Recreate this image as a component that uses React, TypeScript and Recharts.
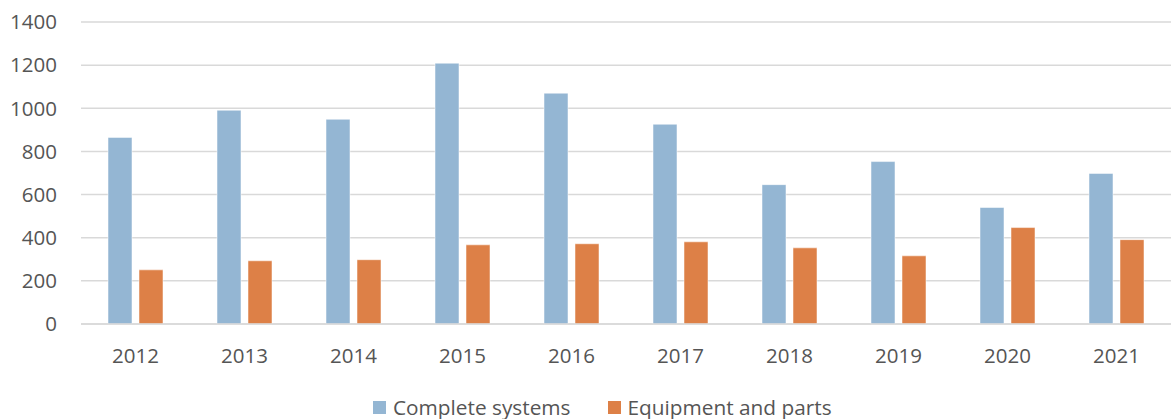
import { BarChart, Bar, XAxis, YAxis, CartesianGrid, Legend } from 'recharts';

const years = ['2012', '2013', '2014', '2015', '2016', '2017', '2018', '2019', '2020', '2021'];
const completeSystems = [865, 991, 949, 1209, 1070, 926, 646, 753, 540, 698];
const equipmentParts = [251, 293, 298, 367, 372, 381, 353, 316, 447, 391];
const yTicks = [0, 200, 400, 600, 800, 1000, 1200, 1400];

const SERIES = [
  { key: 'complete', name: 'Complete systems', color: '#94B6D3' },
  { key: 'equipment', name: 'Equipment and parts', color: '#DD8047' },
];

const data = years.map((y, i) => ({
  year: y,
  complete: completeSystems[i],
  equipment: equipmentParts[i],
}));

const FONT = '"Open Sans", sans-serif';
const TEXT = '#555555';

function LegendContent() {
  return (
    <div
      style={{
        display: 'flex',
        alignItems: 'center',
        height: 24,
        paddingLeft: 373,
        fontFamily: FONT,
        fontSize: 20.8,
        color: TEXT,
      }}
    >
      {SERIES.map((s, i) => (
        <div
          key={s.key}
          style={{ display: 'flex', alignItems: 'center', marginRight: i === 0 ? 37 : 0 }}
        >
          <span style={{ width: 13, height: 13, background: s.color, marginRight: 7, display: 'inline-block' }} />
          <span style={{ lineHeight: '24px' }}>{s.name}</span>
        </div>
      ))}
    </div>
  );
}

export default function App() {
  return (
    <div style={{ position: 'absolute', left: 0, top: 0, width: 1171, height: 419, background: '#fff' }}>
      <BarChart
        width={1171}
        height={419}
        data={data}
        margin={{ top: 22, right: 0, bottom: 0, left: 0 }}
        barSize={24}
        barGap={7}
      >
        <CartesianGrid vertical={false} stroke="#D9D9D9" strokeWidth={1.5} />
        <XAxis
          dataKey="year"
          height={71}
          axisLine={{ stroke: '#D9D9D9', strokeWidth: 1.5 }}
          tickLine={false}
          tickSize={0}
          tickMargin={24}
          tick={{ fill: TEXT, fontSize: 20.5, fontFamily: FONT }}
        />
        <YAxis
          width={81}
          domain={[0, 1400]}
          ticks={yTicks}
          axisLine={false}
          tickLine={false}
          tickSize={0}
          tickMargin={24}
          tick={{ fill: TEXT, fontSize: 20.5, fontFamily: FONT }}
        />
        <Legend verticalAlign="bottom" wrapperStyle={{ top: 395, left: 0, width: 1171 }} content={<LegendContent />} />
        {SERIES.map((s) => (
          <Bar
            key={s.key}
            dataKey={s.key}
            name={s.name}
            fill={s.color}
            stroke="#ffffff"
            strokeOpacity={0.5}
            strokeWidth={1}
            isAnimationActive={false}
          />
        ))}
      </BarChart>
    </div>
  );
}
